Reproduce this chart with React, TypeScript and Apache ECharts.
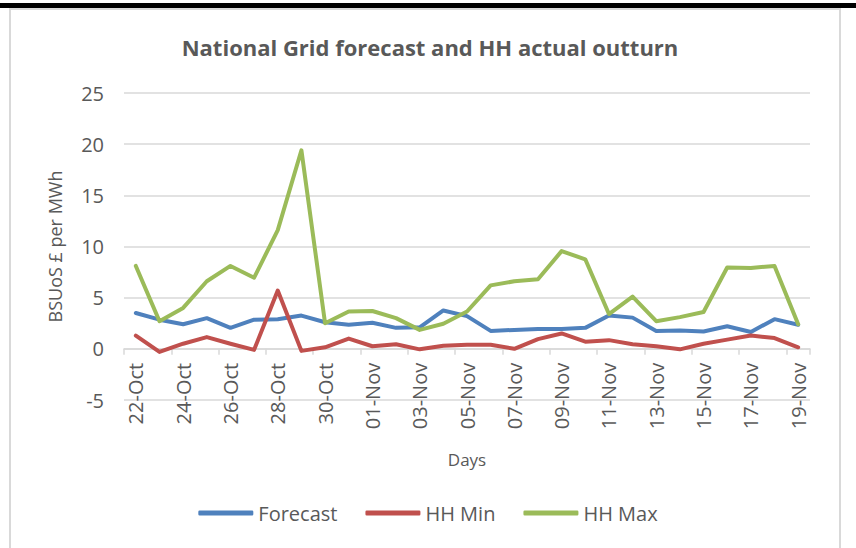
import React, { useEffect, useRef } from "react";
import * as echarts from "echarts";

const days = [
  "22-Oct", "23-Oct", "24-Oct", "25-Oct", "26-Oct", "27-Oct", "28-Oct", "29-Oct", "30-Oct", "31-Oct",
  "01-Nov", "02-Nov", "03-Nov", "04-Nov", "05-Nov", "06-Nov", "07-Nov", "08-Nov", "09-Nov", "10-Nov",
  "11-Nov", "12-Nov", "13-Nov", "14-Nov", "15-Nov", "16-Nov", "17-Nov", "18-Nov", "19-Nov",
];
const forecast = [3.5, 2.85, 2.4, 3.0, 2.05, 2.85, 2.9, 3.25, 2.6, 2.35, 2.55, 2.05, 2.1, 3.75, 3.2, 1.75, 1.85, 1.95, 1.95, 2.05, 3.25, 3.05, 1.75, 1.8, 1.7, 2.2, 1.65, 2.9, 2.35];
const hhMin = [1.3, -0.3, 0.5, 1.15, 0.5, -0.1, 5.7, -0.2, 0.15, 1.0, 0.25, 0.45, -0.05, 0.3, 0.4, 0.4, 0.0, 0.95, 1.5, 0.7, 0.85, 0.45, 0.25, -0.05, 0.5, 0.9, 1.3, 1.05, 0.15];
const hhMax = [8.1, 2.7, 4.0, 6.6, 8.1, 6.95, 11.6, 19.4, 2.5, 3.65, 3.7, 3.0, 1.85, 2.45, 3.65, 6.2, 6.6, 6.8, 9.55, 8.75, 3.4, 5.1, 2.7, 3.1, 3.6, 7.95, 7.9, 8.1, 2.4];

const FONT = "'Open Sans', sans-serif";
const TXT = "#595959";
const GRID = "#d9d9d9";

export default function App() {
  const ref = useRef<HTMLDivElement>(null);
  useEffect(() => {
    if (!ref.current) return;
    const chart = echarts.init(ref.current, undefined, { renderer: "svg" });
    const line = (name: string, data: number[], color: string) => ({
      name,
      type: "line",
      data,
      showSymbol: false,
      symbol: "none",
      lineStyle: { width: 4, color, cap: "round", join: "round" },
      itemStyle: { color },
    });
    chart.setOption({
      animation: false,
      backgroundColor: "#ffffff",
      textStyle: { fontFamily: FONT },
      title: {
        text: "National Grid forecast and HH actual outturn",
        left: 425,
        textAlign: "center",
        top: 31,
        textStyle: { fontFamily: FONT, fontSize: 22, fontWeight: "bold", color: TXT },
      },
      graphic: [
        { type: "rect", shape: { x: 0, y: 3, width: 856, height: 5 }, style: { fill: "#000" }, silent: true },
        {
          type: "rect",
          shape: { x: 10, y: 9, width: 830, height: 560 },
          style: { fill: "none", stroke: GRID, lineWidth: 2 },
          silent: true,
        },
      ],
      legend: {
        bottom: 20,
        left: "center",
        icon: "roundRect",
        itemWidth: 55,
        itemHeight: 5,
        itemGap: 28,
        textStyle: { fontFamily: FONT, fontSize: 20, color: TXT },
        data: ["Forecast", "HH Min", "HH Max"],
      },
      grid: { left: 124, right: 46, top: 93, bottom: 148 },
      xAxis: {
        type: "category",
        data: days,
        boundaryGap: true,
        offset: -51.2,
        name: "Days",
        nameLocation: "middle",
        nameGap: 102,
        nameTextStyle: { fontFamily: FONT, fontSize: 17, color: TXT },
        axisLine: { onZero: false, lineStyle: { color: GRID, width: 1.5 } },
        axisTick: { show: true, interval: 1, length: 6, lineStyle: { color: GRID, width: 1.5 } },
        axisLabel: { interval: 1, rotate: 90, margin: 14, fontFamily: FONT, fontSize: 20, color: TXT },
        splitLine: { show: false },
      },
      yAxis: {
        type: "value",
        min: -5,
        max: 25,
        interval: 5,
        name: "BSUoS £ per MWh",
        nameLocation: "middle",
        nameRotate: 90,
        nameGap: 60,
        nameTextStyle: { fontFamily: FONT, fontSize: 18, color: TXT },
        axisLine: { show: false },
        axisTick: { show: false },
        axisLabel: { margin: 20, fontFamily: FONT, fontSize: 20, color: TXT },
        splitLine: { lineStyle: { color: GRID, width: 1.5 } },
      },
      series: [
        line("Forecast", forecast, "#4F81BD"),
        line("HH Min", hhMin, "#C0504D"),
        line("HH Max", hhMax, "#9BBB59"),
      ],
    });
    return () => chart.dispose();
  }, []);
  return (
    <div style={{ position: "absolute", left: 0, top: 0, width: 856, height: 548, background: "#fff" }}>
      <div ref={ref} style={{ width: 856, height: 548 }} />
    </div>
  );
}
